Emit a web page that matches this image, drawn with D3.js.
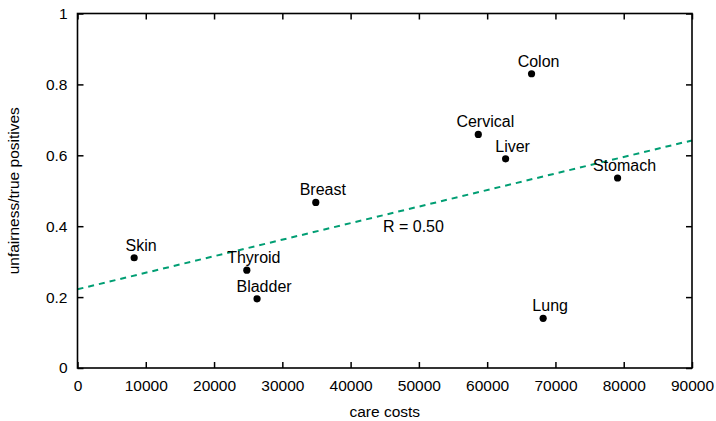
<!DOCTYPE html>
<html>
<head>
<meta charset="utf-8">
<script src="https://cdn.jsdelivr.net/npm/d3@7"></script>
<style>
  html, body { margin: 0; padding: 0; background: #fff; }
  svg { display: block; }
  text { font-family: "Liberation Sans", Arial, Helvetica, sans-serif; fill: #000; }
</style>
</head>
<body>
<svg id="chart" width="716" height="421"></svg>
<script>
// Cancer types: care costs vs. unfairness / true positives
const cancers = ["Skin", "Thyroid", "Bladder", "Breast", "Cervical", "Colon", "Liver", "Stomach", "Lung"];
const careCosts = [8300, 24800, 26300, 34900, 58700, 66500, 62700, 79100, 68200];
const unfairness = [0.311, 0.276, 0.195, 0.467, 0.659, 0.830, 0.590, 0.536, 0.140];

// Linear fit shown as a dashed line
const fitIntercept = 0.222;
const fitSlope = 0.42 / 90000;
const fitLabel = "R = 0.50";

const xTicks = [0, 10000, 20000, 30000, 40000, 50000, 60000, 70000, 80000, 90000];
const yTicks = [0, 0.2, 0.4, 0.6, 0.8, 1];
const xTitle = "care costs";
const yTitle = "unfairness/true positives";

const margin = { left: 77.5, right: 716 - 692, top: 13.5, bottom: 421 - 368 };
const W = 716, H = 421;
const svg = d3.select("#chart");

const x = d3.scaleLinear().domain([0, 90000]).range([margin.left, W - margin.right]);
const y = d3.scaleLinear().domain([0, 1]).range([H - margin.bottom, margin.top]);

const tickFont = 15.5;
const labelFont = 16;
const tickLen = 6;

// Fit line
svg.append("line")
  .attr("x1", x(0)).attr("y1", y(fitIntercept))
  .attr("x2", x(90000)).attr("y2", y(fitIntercept + fitSlope * 90000))
  .attr("stroke", "#009e73").attr("stroke-width", 2)
  .attr("stroke-dasharray", "6,5");

svg.append("text")
  .attr("x", x(49200)).attr("y", y(0.4) + 6)
  .attr("text-anchor", "middle").attr("font-size", labelFont)
  .text(fitLabel);

// Axes (inward ticks, mirrored on all sides)
const axB = svg.append("g").attr("transform", `translate(0,${y(0)})`)
  .call(d3.axisBottom(x).tickValues(xTicks).tickSizeInner(-tickLen).tickSizeOuter(0).tickPadding(12).tickFormat(d3.format("d")));
const axT = svg.append("g").attr("transform", `translate(0,${y(1)})`)
  .call(d3.axisTop(x).tickValues(xTicks).tickSizeInner(-tickLen).tickSizeOuter(0).tickFormat(""));
const axL = svg.append("g").attr("transform", `translate(${x(0)},0)`)
  .call(d3.axisLeft(y).tickValues(yTicks).tickSizeInner(-tickLen).tickSizeOuter(0).tickPadding(10).tickFormat(d => d3.format("")(+d.toFixed(1))));
const axR = svg.append("g").attr("transform", `translate(${x(90000)},0)`)
  .call(d3.axisRight(y).tickValues(yTicks).tickSizeInner(-tickLen).tickSizeOuter(0).tickFormat(""));

[axB, axT, axL, axR].forEach(g => {
  g.select(".domain").remove();
  g.selectAll(".tick line").attr("stroke", "#000").attr("stroke-width", 1.5);
  g.selectAll("text").attr("font-size", tickFont).attr("font-family", '"Liberation Sans", Arial, sans-serif').attr("fill", "#000");
});

// Frame
svg.append("rect")
  .attr("x", x(0)).attr("y", y(1))
  .attr("width", x(90000) - x(0)).attr("height", y(0) - y(1))
  .attr("fill", "none").attr("stroke", "#000").attr("stroke-width", 1.6);

// Points and labels
const pts = cancers.map((c, i) => ({ name: c, cost: careCosts[i], u: unfairness[i] }));
svg.append("g").selectAll("circle").data(pts).join("circle")
  .attr("cx", d => x(d.cost)).attr("cy", d => y(d.u)).attr("r", 3.6).attr("fill", "#000");
svg.append("g").selectAll("text").data(pts).join("text")
  .attr("x", d => x(d.cost) + 7).attr("y", d => y(d.u) - 7)
  .attr("text-anchor", "middle").attr("font-size", labelFont)
  .text(d => d.name);

// Axis titles
svg.append("text")
  .attr("x", (x(0) + x(90000)) / 2).attr("y", 417)
  .attr("text-anchor", "middle").attr("font-size", tickFont)
  .text(xTitle);
svg.append("text")
  .attr("transform", `translate(19,${(y(0) + y(1)) / 2}) rotate(-90)`)
  .attr("text-anchor", "middle").attr("font-size", tickFont)
  .text(yTitle);
</script>
</body>
</html>
